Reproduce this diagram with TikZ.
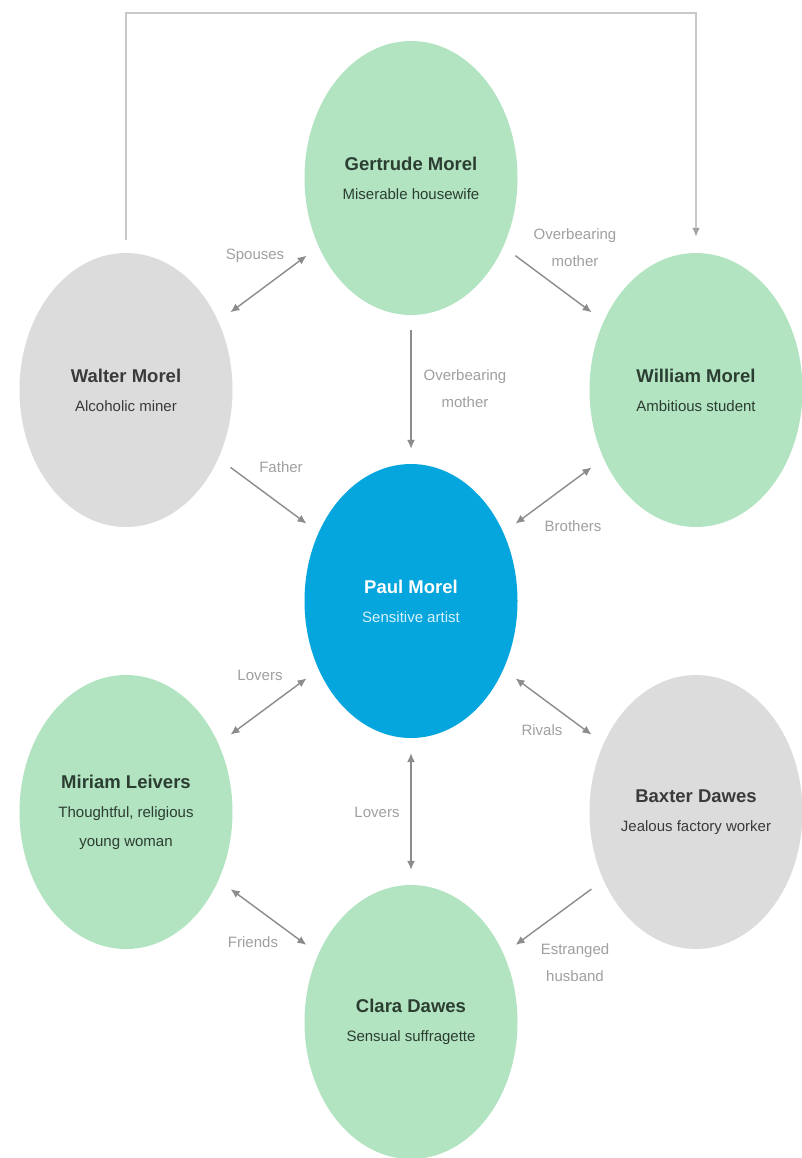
\documentclass[tikz,border=0pt]{standalone}
\usepackage{fontspec}
\setmainfont{Liberation Sans}
\usetikzlibrary{shapes.geometric,arrows.meta}
\definecolor{mint}{HTML}{B2E4C2}
\definecolor{lgray}{HTML}{DCDCDC}
\definecolor{pblue}{HTML}{05A6DD}
\definecolor{arrgray}{HTML}{8C8C8C}
\definecolor{topgray}{HTML}{C9C9C9}
\definecolor{lblgray}{HTML}{A0A0A0}
\definecolor{ttlgreen}{HTML}{2C3D31}
\definecolor{ttlgray}{HTML}{3A3A3A}
\definecolor{paulsub}{HTML}{D6F1FB}
\newcommand{\ttlfont}{\fontsize{18.5}{29}\selectfont\bfseries}
\begin{document}
\begin{tikzpicture}[x=1pt,y=-1pt,
  person/.style={ellipse, draw=none, minimum width=213pt, minimum height=274pt,
    inner sep=0pt, align=center, font=\fontsize{15}{29}\selectfont},
  greenp/.style={person, fill=mint, text=ttlgreen},
  grayp/.style={person, fill=lgray, text=ttlgray},
  bluep/.style={person, fill=pblue, text=paulsub},
  lbl/.style={align=center, text=lblgray, inner sep=0pt, font=\fontsize{15}{27}\selectfont},
  tip/.style={},
  rel/.style={draw=arrgray, line width=1.4pt, shorten >=15pt, shorten <=15pt,
    -{Latex[length=9pt,width=8pt]}},
  relboth/.style={rel, {Latex[length=9pt,width=8pt]}-{Latex[length=9pt,width=8pt]}},
  toparr/.style={draw=topgray, line width=2pt, -{Latex[length=9pt,width=8pt,color=arrgray!80]}}
]
\useasboundingbox (0,0) rectangle (802,1158);
\fill[white] (0,0) rectangle (802,1158);

\node[greenp] (gertrude) at (411,178) {{\ttlfont Gertrude Morel}\\Miserable housewife};
\node[grayp]  (walter)   at (126,390) {{\ttlfont Walter Morel}\\Alcoholic miner};
\node[greenp] (william)  at (696,390) {{\ttlfont William Morel}\\Ambitious student};
\node[bluep]  (paul)     at (411,601) {{\ttlfont\color{white} Paul Morel}\\Sensitive artist};
\node[greenp] (miriam)   at (126,812) {{\ttlfont Miriam Leivers}\\Thoughtful, religious\\young woman};
\node[grayp]  (baxter)   at (696,812) {{\ttlfont Baxter Dawes}\\Jealous factory worker};
\node[greenp] (clara)    at (411,1022) {{\ttlfont Clara Dawes}\\Sensual suffragette};

% top connector Walter -> William
\coordinate (topy) at (0,13);
\draw[toparr] ([yshift=13pt]walter.north) -- (walter.north |- topy)
  -- (william.north |- topy) -- ([yshift=16pt]william.north);

% relations
\draw[relboth] (walter) -- (gertrude);
\draw[rel] (gertrude) -- (william);
\draw[rel] (gertrude) -- (paul);
\draw[rel] (walter) -- (paul);
\draw[relboth] (paul) -- (william);
\draw[relboth] (paul) -- (miriam);
\draw[relboth] (paul) -- (baxter);
\draw[relboth] (paul) -- (clara);
\draw[relboth] (miriam) -- (clara);
\draw[rel] (baxter) -- (clara);

% labels
\node[lbl] (lspouses) at (255,256) {Spouses};
\node[lbl] (lover1)   at (575,248) {Overbearing\\mother};
\node[lbl] (lover2)   at (465,389) {Overbearing\\mother};
\node[lbl] (lfather)  at (281,467) {Father};
\node[lbl] (lbroth)   at (573,526) {Brothers};
\node[lbl] (llov1)    at (260,675) {Lovers};
\node[lbl] (lrivals)  at (542,730) {Rivals};
\node[lbl] (llov2)    at (377,812) {Lovers};
\node[lbl] (lfriends) at (253,942) {Friends};
\node[lbl] (lestr)    at (575,963) {Estranged\\husband};
\end{tikzpicture}
\end{document}
